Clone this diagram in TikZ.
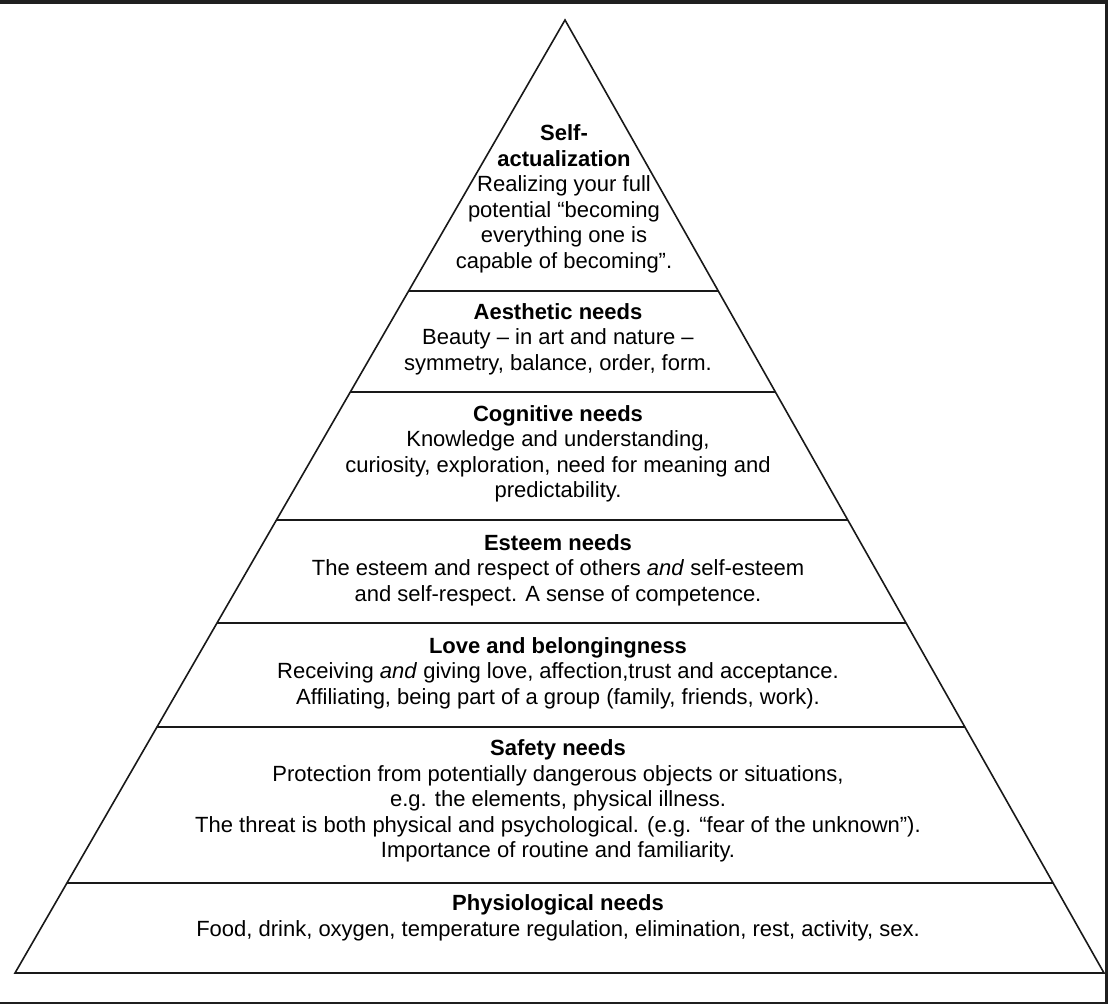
\documentclass[tikz,border=0pt]{standalone}
\usepackage{fontspec}
\setmainfont{Liberation Sans}
\usetikzlibrary{calc}
\begin{document}
\begin{tikzpicture}[x=1pt,y=-1pt,
  edge/.style={line width=1.6pt, draw=black!90, line join=miter},
  frame/.style={fill=black!88},
  level/.style={align=center, font=\fontsize{22}{25.5}\selectfont, inner sep=0pt, text=black}]
\useasboundingbox (0,0) rectangle (1108,1004);
\fill[white] (0,0) rectangle (1108,1004);
\fill[frame] (0,0) rectangle (1108,4);
\fill[frame] (1105,0) rectangle (1108,1004);
\fill[frame] (0,1002) rectangle (1108,1004);
\coordinate (A) at (565,20);
\coordinate (BL) at (15,973);
\coordinate (BR) at (1104,973);
\draw[edge] (A) -- (BL) -- (BR) -- cycle;
\foreach \t in {0.2844,0.3903,0.5247,0.6327,0.7419,0.9056}
  \draw[edge] ($(A)!\t!(BL)$) -- ($(A)!\t!(BR)$);
\node[level] (selfact) at (564,199) {\textbf{Self-}\\\textbf{actualization}\\Realizing your full\\potential “becoming\\everything one is\\capable of becoming”.};
\node[level] (aesthetic) at (558,339) {\textbf{Aesthetic needs}\\Beauty – in art and nature –\\symmetry, balance, order, form.};
\node[level] (cognitive) at (558,454) {\textbf{Cognitive needs}\\Knowledge and understanding,\\curiosity, exploration, need for meaning and\\predictability.};
\node[level] (esteem) at (558,570) {\textbf{Esteem needs}\\The esteem and respect of others \textit{and} self-esteem\\and self-respect. A sense of competence.};
\node[level] (love) at (558,673) {\textbf{Love and belongingness}\\Receiving \textit{and} giving love, affection,trust and acceptance.\\Affiliating, being part of a group (family, friends, work).};
\node[level] (safety) at (558,801) {\textbf{Safety needs}\\Protection from potentially dangerous objects or situations,\\e.g. the elements, physical illness.\\The threat is both physical and psychological. (e.g. “fear of the unknown”).\\Importance of routine and familiarity.};
\node[level] (physio) at (558,918) {\textbf{Physiological needs}\\Food, drink, oxygen, temperature regulation, elimination, rest, activity, sex.};
\end{tikzpicture}
\end{document}
